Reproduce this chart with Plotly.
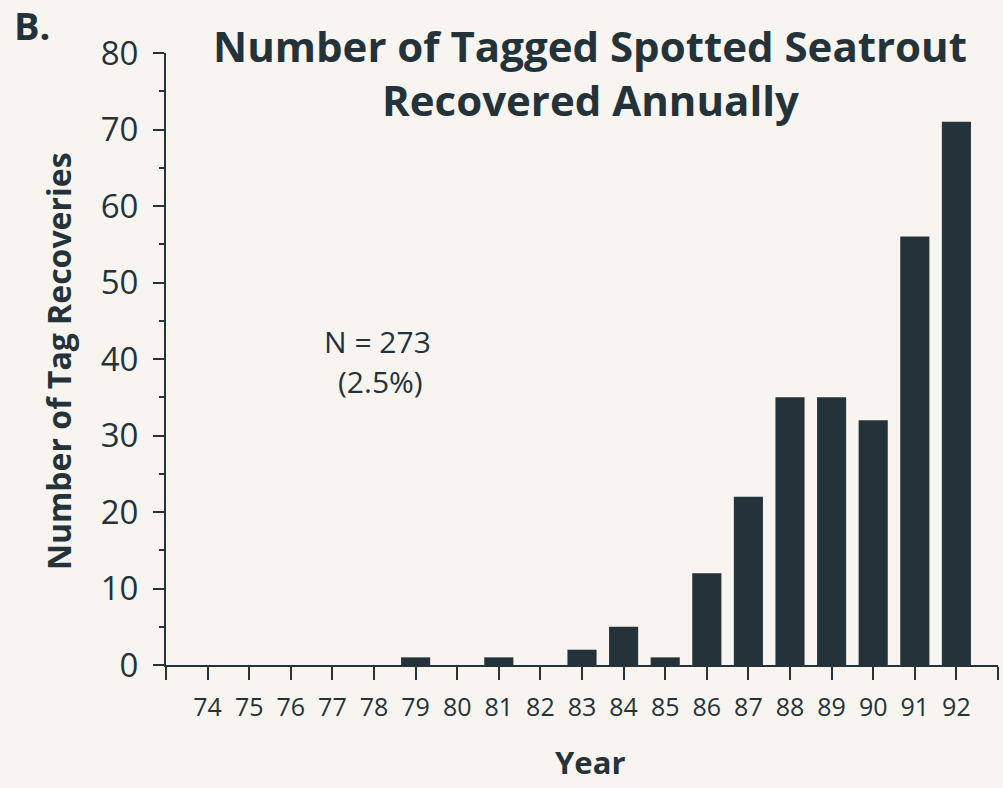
import plotly.graph_objects as go

years = list(range(74, 93))
recoveries = [0, 0, 0, 0, 0, 1, 0, 1, 0, 2, 5, 1, 12, 22, 35, 35, 32, 56, 71]
tick_vals = list(range(73, 94))
tick_text = [""] + [str(y) for y in years] + [""]

INK = "#24323a"
BG = "#f8f5f1"
FONT = "Open Sans"

fig = go.Figure()
fig.add_trace(go.Bar(
    x=years, y=recoveries, width=0.7,
    marker=dict(color=INK, line=dict(width=0)),
))

fig.update_layout(
    width=1003, height=788,
    margin=dict(l=166, r=5, t=53, b=123),
    paper_bgcolor=BG, plot_bgcolor=BG,
    showlegend=False,
    font=dict(family=FONT, color=INK),
    xaxis=dict(
        range=[73, 93], tickmode="array", tickvals=tick_vals, ticktext=tick_text,
        showline=True, linecolor=INK, linewidth=2,
        ticks="outside", ticklen=13, tickwidth=2, tickcolor=INK,
        showgrid=False, zeroline=False,
        tickfont=dict(size=25, color=INK, family=FONT, weight=500),
        ticklabelstandoff=6,
    ),
    yaxis=dict(
        range=[0, 80], tickmode="linear", tick0=0, dtick=10,
        showline=True, linecolor=INK, linewidth=2,
        ticks="outside", ticklen=11, tickwidth=2, tickcolor=INK,
        minor=dict(dtick=5, ticks="outside", ticklen=5, tickwidth=1.5, tickcolor=INK),
        showgrid=False, zeroline=False,
        tickfont=dict(size=33, color=INK, family=FONT, weight=500),
        ticklabelstandoff=8,
    ),
)

def ann(text, x, y, size, weight=400, angle=0):
    fig.add_annotation(text=text, x=x, y=y, xref="paper", yref="paper",
                       showarrow=False, textangle=angle,
                       xanchor="center", yanchor="middle",
                       font=dict(size=size, color=INK, family=FONT, weight=weight))

ann("Number of Tagged Spotted Seatrout", 0.51, 1.013, 42, 700)
ann("Recovered Annually", 0.51, 0.924, 42, 700)
ann("B.", -0.161, 1.046, 38, 700)
ann("Number of Tag Recoveries", -0.129, 0.496, 32, 700, -90)
ann("Year", 0.51, -0.158, 31, 700)
ann("N = 273", 0.254, 0.528, 30, 500)
ann("(2.5%)", 0.258, 0.464, 30, 500)

post = ("document.body.style.margin='0';"
        "document.body.style.background='#f8f5f1';"
        "document.documentElement.style.background='#f8f5f1';")
fig.write_html("out.html", post_script=post, config={"displayModeBar": False})
